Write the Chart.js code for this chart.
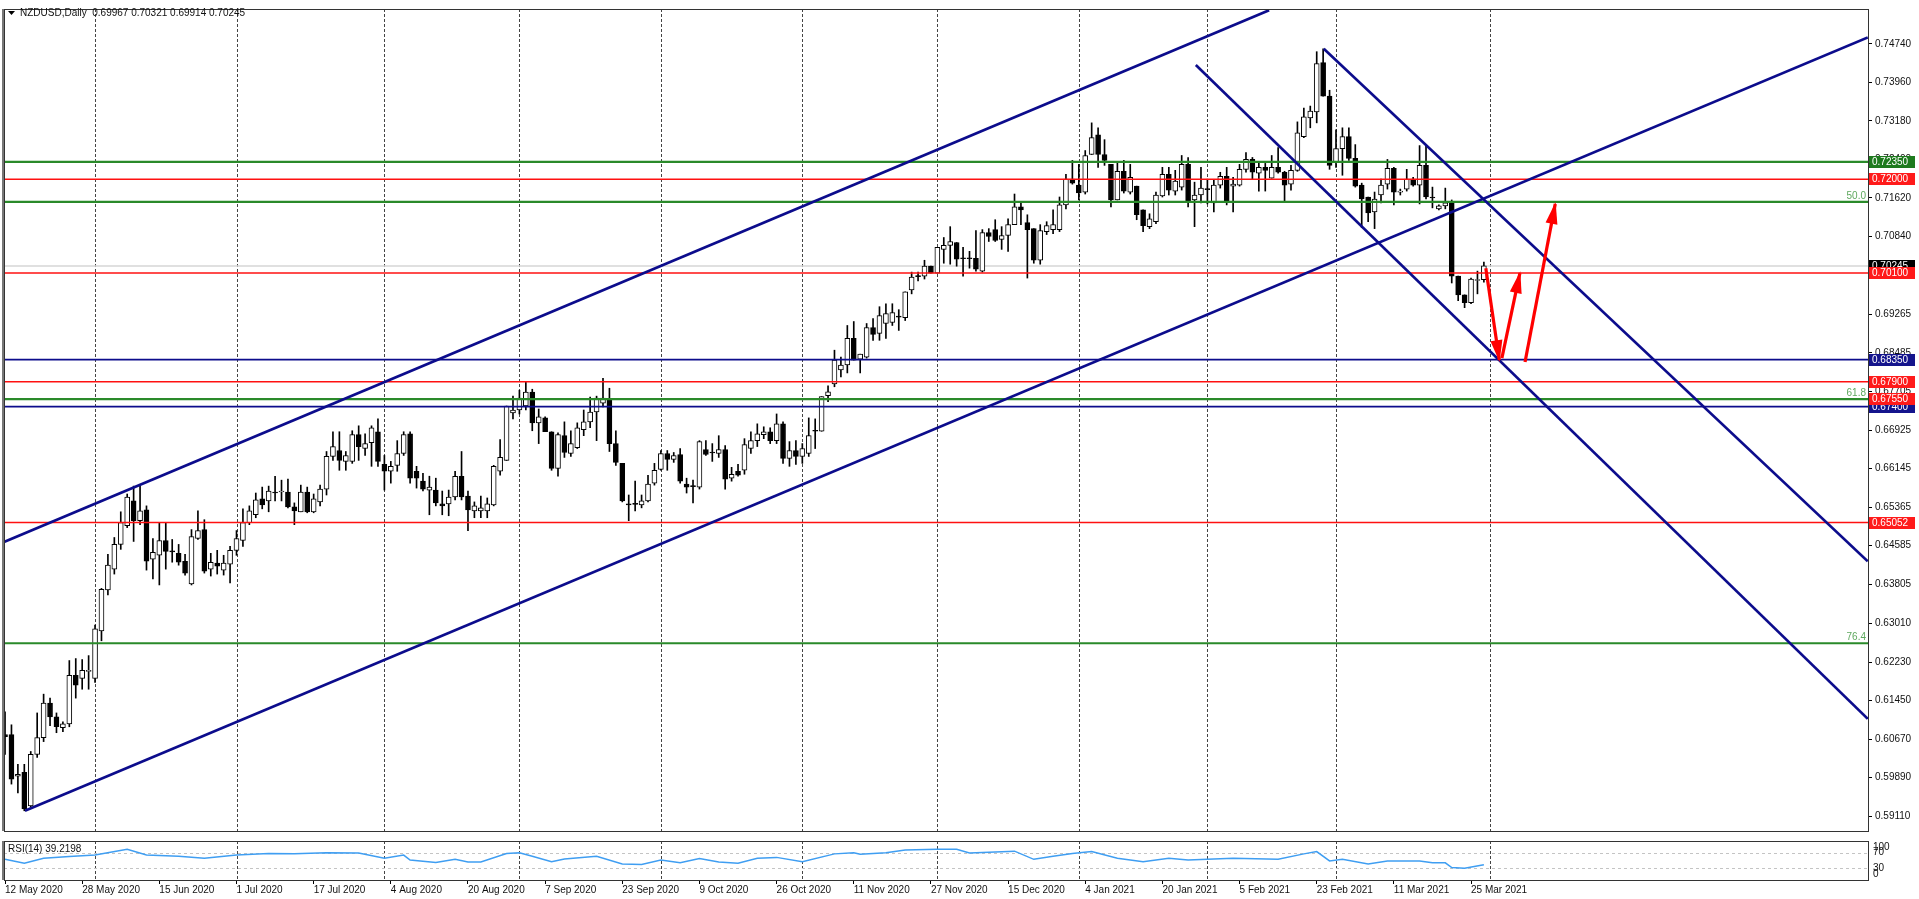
<!DOCTYPE html>
<html>
<head>
<meta charset="utf-8">
<script src="https://cdn.jsdelivr.net/npm/chart.js@4.4.1/dist/chart.umd.min.js"></script>
<style>
html,body{margin:0;padding:0;background:#fff;overflow:hidden}
#main{position:absolute;left:0;top:0}
#rsi{position:absolute;left:0;top:838px}
</style>
</head>
<body>
<canvas id="main" width="1919" height="840"></canvas>
<canvas id="rsi" width="1919" height="61"></canvas>
<script>
// NZDUSD daily
const open = [
0.6076,0.6076,0.5992,0.6000,0.5932,0.6036,0.6070,0.6140,0.6112,0.6090,
0.6098,0.6196,0.6190,0.6204,0.6190,0.6286,0.6369,0.6411,0.6461,0.6499,
0.6549,0.6509,0.6531,0.6431,0.6439,0.6469,0.6447,0.6443,0.6427,0.6381,
0.6473,0.6491,0.6411,0.6423,0.6409,0.6421,0.6449,0.6469,0.6505,0.6521,
0.6553,0.6549,0.6567,0.6567,0.6567,0.6537,0.6527,0.6567,0.6527,0.6547,
0.6573,0.6639,0.6651,0.6629,0.6629,0.6683,0.6655,0.6667,0.6689,0.6623,
0.6609,0.6621,0.6645,0.6685,0.6609,0.6589,0.6571,0.6571,0.6543,0.6543,
0.6557,0.6599,0.6559,0.6529,0.6529,0.6529,0.6541,0.6609,0.6631,0.6727,
0.6733,0.6741,0.6769,0.6707,0.6717,0.6689,0.6615,0.6681,0.6645,0.6657,
0.6693,0.6709,0.6729,0.6747,0.6753,0.6665,0.6625,0.6543,0.6543,0.6541,
0.6549,0.6585,0.6613,0.6645,0.6633,0.6643,0.6583,0.6579,0.6577,0.6653,
0.6647,0.6645,0.6653,0.6595,0.6609,0.6611,0.6655,0.6671,0.6683,0.6689,
0.6671,0.6705,0.6635,0.6651,0.6639,0.6645,0.6691,0.6690,0.6762,0.6786,
0.6814,0.6824,0.6878,0.6836,0.6840,0.6900,0.6888,0.6908,0.6910,0.6922,
0.6920,0.6976,0.7004,0.7004,0.7024,0.7010,0.7058,0.7066,0.7072,0.7040,
0.7040,0.7040,0.7014,0.7092,0.7098,0.7078,0.7086,0.7108,0.7144,0.7112,
0.7100,0.7036,0.7094,0.7098,0.7098,0.7148,0.7200,0.7188,0.7174,0.7250,
0.7290,0.7250,0.7230,0.7158,0.7216,0.7174,0.7186,0.7138,0.7104,0.7114,
0.7166,0.7210,0.7176,0.7184,0.7230,0.7158,0.7168,0.7180,0.7152,0.7188,
0.7206,0.7186,0.7188,0.7220,0.7240,0.7212,0.7224,0.7202,0.7224,0.7214,
0.7190,0.7218,0.7286,0.7324,0.7336,0.7436,0.7368,0.7234,0.7262,0.7286,
0.7242,0.7188,0.7164,0.7134,0.7168,0.7190,0.7222,0.7174,0.7180,0.7200,
0.7188,0.7228,0.7164,0.7140,0.7146,0.7154,0.7004,0.6966,0.6950,0.6995,
0.69967];
const high = [
0.6122,0.6096,0.6016,0.6016,0.6042,0.6120,0.6158,0.6150,0.6120,0.6102,
0.6226,0.6230,0.6228,0.6236,0.6298,0.6372,0.6441,0.6475,0.6527,0.6563,
0.6579,0.6579,0.6539,0.6473,0.6505,0.6505,0.6471,0.6461,0.6441,0.6491,
0.6529,0.6511,0.6443,0.6449,0.6439,0.6457,0.6489,0.6533,0.6539,0.6565,
0.6577,0.6579,0.6599,0.6591,0.6593,0.6545,0.6581,0.6577,0.6563,0.6581,
0.6649,0.6689,0.6689,0.6649,0.6691,0.6701,0.6685,0.6701,0.6715,0.6641,
0.6629,0.6671,0.6689,0.6689,0.6619,0.6605,0.6599,0.6595,0.6569,0.6571,
0.6609,0.6649,0.6569,0.6547,0.6559,0.6555,0.6621,0.6673,0.6741,0.6761,
0.6773,0.6789,0.6775,0.6735,0.6719,0.6689,0.6687,0.6709,0.6691,0.6707,
0.6733,0.6759,0.6761,0.6797,0.6777,0.6691,0.6625,0.6561,0.6589,0.6561,
0.6601,0.6625,0.6651,0.6651,0.6647,0.6655,0.6595,0.6591,0.6671,0.6671,
0.6665,0.6681,0.6661,0.6617,0.6623,0.6675,0.6689,0.6705,0.6699,0.6697,
0.6725,0.6709,0.6669,0.6671,0.6665,0.6717,0.6715,0.6760,0.6782,0.6854,
0.6840,0.6904,0.6912,0.6846,0.6908,0.6918,0.6942,0.6948,0.6948,0.6936,
0.6972,0.7012,0.7012,0.7036,0.7024,0.7062,0.7082,0.7104,0.7072,0.7062,
0.7054,0.7096,0.7098,0.7100,0.7118,0.7104,0.7120,0.7170,0.7154,0.7128,
0.7100,0.7108,0.7114,0.7138,0.7164,0.7210,0.7238,0.7230,0.7258,0.7314,
0.7304,0.7280,0.7230,0.7234,0.7238,0.7230,0.7186,0.7138,0.7130,0.7174,
0.7224,0.7224,0.7218,0.7248,0.7244,0.7194,0.7224,0.7200,0.7198,0.7214,
0.7224,0.7204,0.7230,0.7254,0.7244,0.7236,0.7232,0.7248,0.7264,0.7216,
0.7228,0.7316,0.7344,0.7348,0.7458,0.7464,0.7380,0.7300,0.7304,0.7304,
0.7270,0.7192,0.7164,0.7174,0.7200,0.7240,0.7224,0.7180,0.7220,0.7204,
0.7268,0.7268,0.7184,0.7148,0.7182,0.7158,0.7004,0.6966,0.7000,0.7014,
0.70321];
const low = [
0.6036,0.5976,0.5958,0.5922,0.5930,0.6030,0.6062,0.6094,0.6080,0.6082,
0.6092,0.6150,0.6168,0.6168,0.6182,0.6266,0.6359,0.6401,0.6451,0.6495,
0.6467,0.6501,0.6409,0.6391,0.6379,0.6411,0.6425,0.6419,0.6399,0.6379,
0.6471,0.6403,0.6397,0.6401,0.6399,0.6383,0.6439,0.6457,0.6501,0.6515,
0.6533,0.6527,0.6549,0.6549,0.6535,0.6501,0.6527,0.6525,0.6525,0.6539,
0.6561,0.6631,0.6611,0.6611,0.6625,0.6631,0.6641,0.6619,0.6619,0.6571,
0.6585,0.6609,0.6641,0.6585,0.6575,0.6569,0.6521,0.6539,0.6521,0.6519,
0.6551,0.6551,0.6489,0.6515,0.6515,0.6515,0.6539,0.6601,0.6631,0.6715,
0.6725,0.6733,0.6691,0.6665,0.6689,0.6611,0.6599,0.6637,0.6639,0.6655,
0.6681,0.6697,0.6671,0.6739,0.6649,0.6621,0.6547,0.6509,0.6529,0.6535,
0.6547,0.6581,0.6611,0.6611,0.6627,0.6585,0.6565,0.6545,0.6573,0.6641,
0.6629,0.6637,0.6573,0.6589,0.6599,0.6603,0.6645,0.6659,0.6675,0.6665,
0.6665,0.6625,0.6619,0.6623,0.6625,0.6639,0.6655,0.6690,0.6750,0.6780,
0.6800,0.6808,0.6834,0.6808,0.6838,0.6874,0.6874,0.6878,0.6904,0.6894,
0.6914,0.6968,0.6994,0.6998,0.7010,0.7010,0.7030,0.7028,0.7024,0.7004,
0.7020,0.7014,0.7012,0.7074,0.7074,0.7058,0.7054,0.7108,0.7108,0.7000,
0.7030,0.7028,0.7088,0.7090,0.7094,0.7140,0.7190,0.7158,0.7170,0.7250,
0.7224,0.7228,0.7144,0.7158,0.7172,0.7170,0.7118,0.7094,0.7100,0.7110,
0.7164,0.7168,0.7168,0.7178,0.7144,0.7104,0.7152,0.7150,0.7134,0.7182,
0.7148,0.7134,0.7186,0.7214,0.7200,0.7176,0.7176,0.7202,0.7212,0.7156,
0.7178,0.7216,0.7284,0.7304,0.7314,0.7368,0.7220,0.7224,0.7208,0.7238,
0.7184,0.7102,0.7114,0.7100,0.7152,0.7180,0.7148,0.7168,0.7176,0.7186,
0.7150,0.7160,0.7142,0.7138,0.7140,0.6990,0.6954,0.6940,0.6948,0.6968,
0.69914];
const close = [
0.6072,0.5986,0.5996,0.5926,0.6036,0.6070,0.6140,0.6112,0.6092,0.6098,
0.6196,0.6176,0.6206,0.6205,0.6290,0.6370,0.6419,0.6461,0.6505,0.6557,
0.6509,0.6529,0.6427,0.6445,0.6469,0.6447,0.6446,0.6425,0.6403,0.6477,
0.6489,0.6407,0.6425,0.6417,0.6423,0.6449,0.6473,0.6505,0.6529,0.6551,
0.6541,0.6569,0.6565,0.6568,0.6537,0.6529,0.6567,0.6527,0.6553,0.6573,
0.6639,0.6659,0.6631,0.6641,0.6683,0.6659,0.6665,0.6697,0.6629,0.6609,
0.6619,0.6645,0.6683,0.6595,0.6595,0.6573,0.6577,0.6545,0.6539,0.6557,
0.6599,0.6557,0.6531,0.6539,0.6535,0.6543,0.6619,0.6637,0.6741,0.6733,
0.6757,0.6769,0.6707,0.6719,0.6689,0.6615,0.6683,0.6647,0.6665,0.6697,
0.6709,0.6729,0.6757,0.6757,0.6665,0.6627,0.6549,0.6541,0.6542,0.6549,
0.6583,0.6611,0.6645,0.6633,0.6641,0.6589,0.6577,0.6578,0.6669,0.6643,
0.6646,0.6653,0.6593,0.6603,0.6601,0.6663,0.6671,0.6685,0.6689,0.6671,
0.6705,0.6635,0.6651,0.6639,0.6655,0.6681,0.6690,0.6760,0.6770,0.6834,
0.6824,0.6878,0.6834,0.6846,0.6900,0.6886,0.6924,0.6928,0.6930,0.6921,
0.6972,0.7002,0.7003,0.7024,0.7010,0.7062,0.7066,0.7074,0.7038,0.7039,
0.7039,0.7018,0.7092,0.7084,0.7076,0.7086,0.7108,0.7144,0.7138,0.7098,
0.7036,0.7096,0.7106,0.7108,0.7148,0.7200,0.7192,0.7172,0.7248,0.7284,
0.7250,0.7238,0.7158,0.7216,0.7176,0.7204,0.7128,0.7106,0.7120,0.7168,
0.7210,0.7178,0.7196,0.7230,0.7156,0.7168,0.7182,0.7179,0.7188,0.7206,
0.7156,0.7190,0.7220,0.7240,0.7214,0.7224,0.7218,0.7224,0.7214,0.7188,
0.7218,0.7294,0.7326,0.7338,0.7434,0.7368,0.7228,0.7262,0.7286,0.7242,
0.7186,0.7160,0.7132,0.7160,0.7188,0.7222,0.7174,0.7176,0.7200,0.7188,
0.7228,0.7164,0.7162,0.7146,0.7152,0.7004,0.6966,0.6950,0.6998,0.6997,
0.70245];

// RSI(14) read at a set of bars
const rsiIndex = [0,3,6,10,14,19,22,27,31,36,41,45,50,55,59,62,63,67,70,72,74,78,80,82,85,87,92,96,99,102,
  105,108,111,114,117,120,124,129,132,133,137,140,145,148,150,157,160,163,166,169,173,177,181,184,191,198,
  202,204,206,208,212,215,220,222,224,225,227,230];
const rsiValues = [53,43,56,60,64,79,64,61,56,64,68,67,70,69,56,64,51,45,53,46,46,68,70,61,47,54,61,41,40,51,
  44,55,46,43,56,58,47,67,70,66,70,77,79,79,69,74,53,61,68,73,56,47,56,51,56,53,
  67,73,49,53,41,49,49,44,44,32,30,39.2198];

// axes
const dateIndex = [0,12,24,36,48,60,72,84,96,108,120,132,144,156,168,180,192,204,216,228];
const dateLabels = ['12 May 2020','28 May 2020','15 Jun 2020','1 Jul 2020','17 Jul 2020','4 Aug 2020',
  '20 Aug 2020','7 Sep 2020','23 Sep 2020','9 Oct 2020','26 Oct 2020','11 Nov 2020','27 Nov 2020',
  '15 Dec 2020','4 Jan 2021','20 Jan 2021','5 Feb 2021','23 Feb 2021','11 Mar 2021','25 Mar 2021'];
const priceTicks = [0.74740,0.73960,0.73180,0.72400,0.71620,0.70840,0.70060,0.69265,0.68485,0.67705,
  0.66925,0.66145,0.65365,0.64585,0.63805,0.63010,0.62230,0.61450,0.60670,0.59890,0.59110];
const monthStarts = [14,36,59,80,102,124,145,167,187,207,231];

// drawn objects
const greenLevels = [0.72350,0.71540,0.67550,0.62610];
const redLevels = [0.72000,0.70100,0.67900,0.67550,0.65052];
const blueLevels = [0.68350,0.67400];
const fibValues = [0.71540,0.67550,0.62610];
const fibNames = ['50.0','61.8','76.4'];
const lastPrice = 0.70245;
const trendLines = [
  [[-0.16,0.6466],[196.6,0.7542]],
  [[3.1,0.5922],[289.7,0.7487]],
  [[185.2,0.7431],[289.7,0.6108]],
  [[205.1,0.7464],[289.7,0.6427]]
];
const arrows = [
  [[230.3,0.7020],[232.4,0.6834]],
  [[232.8,0.6838],[235.6,0.7010]],
  [[236.4,0.6830],[241.1,0.7150]]
];

const xMin = -0.16, xMax = 289.74;
const yMin = 0.58811, yMax = 0.75444;
const FONT = "'Liberation Sans', Arial, sans-serif";
const NAVY = '#0c0c8c';
const GREEN = '#2a8a2a';
const RED = '#ff1010';

function hline(v, color, w, order) {
  return {type:'line', data:[{x:xMin,y:v},{x:xMax,y:v}], borderColor:color, borderWidth:w,
    pointRadius:0, order:order};
}

const datasets = [];
datasets.push(hline(lastPrice, '#d6d6d6', 1.5, 9));
datasets.push({
  type:'bar', data: high.map((h,i)=>({x:i, y:[low[i], h]})),
  backgroundColor:'#000', barThickness:1, grouped:false, order:8
});
datasets.push({
  type:'bar', data: open.map((o,i)=>({x:i, y:[o, close[i]]})),
  backgroundColor: open.map((o,i)=> close[i] >= o ? '#fff' : '#000'),
  borderColor:'#000', borderWidth:1, borderSkipped:false, minBarLength:1,
  barThickness:5, grouped:false, order:7
});
redLevels.forEach(v => datasets.push(hline(v, RED, 1.5, 5)));
greenLevels.forEach(v => datasets.push(hline(v, GREEN, 2.2, 4)));
blueLevels.forEach(v => datasets.push(hline(v, NAVY, 1.8, 4)));
trendLines.forEach(p => datasets.push({type:'line', data:p.map(q=>({x:q[0],y:q[1]})),
  borderColor:NAVY, borderWidth:2.6, pointRadius:0, order:2}));
arrows.forEach(p => datasets.push({type:'line', arrow:true, data:p.map(q=>({x:q[0],y:q[1]})),
  borderColor:'#ff0000', borderWidth:3.2, pointRadius:0, order:1}));

function drawSeparators(chart) {
  const {ctx, chartArea:a, scales:{x}} = chart;
  ctx.save();
  ctx.strokeStyle = '#444';
  ctx.lineWidth = 1;
  ctx.setLineDash([3,2]);
  monthStarts.forEach(i => {
    const px = Math.round(x.getPixelForValue(i)) + 0.5;
    ctx.beginPath(); ctx.moveTo(px, a.top); ctx.lineTo(px, a.bottom); ctx.stroke();
  });
  ctx.restore();
}

const mainPlugin = {
  id:'mainDeco',
  beforeDatasetsDraw(chart) { drawSeparators(chart); },
  afterDatasetsDraw(chart) {
    const {ctx} = chart;
    chart.data.datasets.forEach((ds, k) => {
      if (!ds.arrow) return;
      const pts = chart.getDatasetMeta(k).data;
      const p0 = pts[0], p1 = pts[1];
      const ang = Math.atan2(p1.y - p0.y, p1.x - p0.x);
      const len = 20, half = 6;
      const bx = p1.x - len*Math.cos(ang), by = p1.y - len*Math.sin(ang);
      ctx.save();
      ctx.fillStyle = '#ff0000';
      ctx.beginPath();
      ctx.moveTo(p1.x + 2*Math.cos(ang), p1.y + 2*Math.sin(ang));
      ctx.lineTo(bx + half*Math.sin(ang), by - half*Math.cos(ang));
      ctx.lineTo(bx - half*Math.sin(ang), by + half*Math.cos(ang));
      ctx.closePath(); ctx.fill();
      ctx.restore();
    });
  },
  afterDraw(chart) {
    const {ctx, chartArea:a, scales:{y}} = chart;
    ctx.save();
    // frame
    ctx.strokeStyle = '#333';
    ctx.lineWidth = 1;
    ctx.strokeRect(a.left + 0.5, a.top + 0.5, a.right - a.left, a.bottom - a.top);
    ctx.fillStyle = '#777';
    ctx.fillRect(a.left - 2, a.top, 2, a.bottom - a.top);
    // fibo labels
    ctx.font = '10px ' + FONT;
    ctx.fillStyle = '#5ea85e';
    ctx.textAlign = 'right';
    ctx.textBaseline = 'bottom';
    fibValues.forEach((v, i) => ctx.fillText(fibNames[i], a.right - 2, y.getPixelForValue(v) - 1));
    // price boxes
    const box = (v, bg) => {
      const py = Math.round(y.getPixelForValue(v));
      ctx.fillStyle = bg;
      ctx.fillRect(a.right + 1, py - 6, 46, 12);
      ctx.fillStyle = '#fff';
      ctx.textAlign = 'left';
      ctx.textBaseline = 'middle';
      ctx.fillText(v.toFixed(5), a.right + 4, py + 0.5);
    };
    box(lastPrice, '#000');
    blueLevels.forEach(v => box(v, '#14148c'));
    box(greenLevels[0], '#1e7a1e');
    redLevels.forEach(v => box(v, '#ff1a1a'));
    // header
    ctx.fillStyle = '#000';
    ctx.beginPath();
    ctx.moveTo(8, 11); ctx.lineTo(15, 11); ctx.lineTo(11.5, 15); ctx.closePath(); ctx.fill();
    ctx.font = '10px ' + FONT;
    ctx.textAlign = 'left';
    ctx.textBaseline = 'middle';
    ctx.fillStyle = '#111';
    ctx.fillText('NZDUSD,Daily  0.69967 0.70321 0.69914 0.70245', 20, 13.5);
    ctx.restore();
  }
};

new Chart(document.getElementById('main'), {
  type:'bar',
  data:{datasets},
  options:{
    responsive:false, animation:false, devicePixelRatio:1,
    layout:{padding:{left:4, top:4, right:0, bottom:2}},
    plugins:{legend:{display:false}, tooltip:{enabled:false}},
    scales:{
      x:{type:'linear', min:xMin, max:xMax, display:false, offset:false},
      y:{
        position:'right', min:yMin, max:yMax,
        afterBuildTicks: s => { s.ticks = priceTicks.map(v => ({value:v})); },
        afterFit: s => { s.width = 51; },
        ticks:{autoSkip:false, padding:3, color:'#111', font:{family:FONT, size:10},
          callback: v => v.toFixed(5)},
        grid:{drawOnChartArea:false, tickLength:4, color:'#000'},
        border:{display:true, color:'#000'}
      }
    }
  },
  plugins:[mainPlugin]
});

const rsiPlugin = {
  id:'rsiDeco',
  beforeDatasetsDraw(chart) {
    const {ctx, chartArea:a, scales:{y}} = chart;
    drawSeparators(chart);
    ctx.save();
    ctx.strokeStyle = '#c4c4c4';
    ctx.lineWidth = 1;
    ctx.setLineDash([3,3]);
    [70,30].forEach(v => {
      const py = Math.round(y.getPixelForValue(v)) + 0.5;
      ctx.beginPath(); ctx.moveTo(a.left, py); ctx.lineTo(a.right, py); ctx.stroke();
    });
    ctx.restore();
  },
  afterDraw(chart) {
    const {ctx, chartArea:a, scales:{y}} = chart;
    ctx.save();
    ctx.strokeStyle = '#333';
    ctx.lineWidth = 1;
    ctx.strokeRect(a.left + 0.5, a.top + 0.5, a.right - a.left, a.bottom - a.top);
    ctx.fillStyle = '#777';
    ctx.fillRect(a.left - 2, a.top, 2, a.bottom - a.top);
    ctx.font = '10px ' + FONT;
    ctx.fillStyle = '#111';
    ctx.textAlign = 'left';
    ctx.textBaseline = 'middle';
    ctx.fillText('RSI(14) 39.2198', a.left + 4, a.top + 8);
    [100,70,30,0].forEach(v => {
      let py = y.getPixelForValue(v);
      py = Math.min(Math.max(py, a.top + 6), a.bottom - 6);
      ctx.fillText(String(v), a.right + 5, py);
    });
    ctx.restore();
  }
};

new Chart(document.getElementById('rsi'), {
  type:'line',
  data:{datasets:[{
    data: rsiIndex.map((i,k)=>({x:i, y:rsiValues[k]})),
    borderColor:'#3f9ef2', borderWidth:1.5, pointRadius:0, tension:0
  }]},
  options:{
    responsive:false, animation:false, devicePixelRatio:1,
    layout:{padding:{left:4, top:3, right:0, bottom:0}},
    plugins:{legend:{display:false}, tooltip:{enabled:false}},
    scales:{
      x:{
        type:'linear', min:xMin, max:xMax, position:'bottom', offset:false,
        afterBuildTicks: s => { s.ticks = dateIndex.map(v => ({value:v})); },
        afterFit: s => { s.height = 19; },
        ticks:{autoSkip:false, maxRotation:0, align:'start', padding:0, color:'#111',
          font:{family:FONT, size:10}, callback:(v, i) => dateLabels[i]},
        grid:{drawOnChartArea:false, tickLength:4, color:'#000'},
        border:{display:true, color:'#000'}
      },
      y:{
        position:'right', min:0, max:100,
        afterFit: s => { s.width = 51; },
        ticks:{display:false},
        grid:{display:false},
        border:{display:true, color:'#000'}
      }
    }
  },
  plugins:[rsiPlugin]
});
</script>
</body>
</html>
